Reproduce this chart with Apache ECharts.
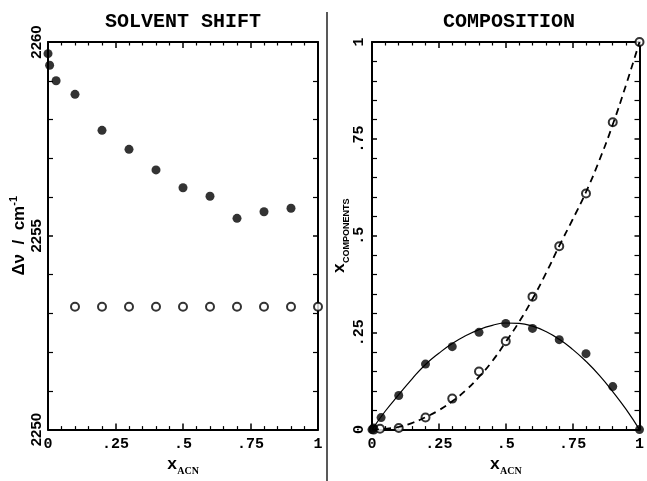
<!DOCTYPE html>
<html>
<head>
<meta charset="utf-8">
<title>Solvent shift / Composition</title>
<script src="https://cdn.jsdelivr.net/npm/echarts@6/dist/echarts.min.js"></script>
<style>
    html, body { margin: 0; padding: 0; background: #fff; }
    #chart { width: 647px; height: 481px; }
</style>
</head>
<body>
<div id="chart"></div>
<script>
// 左图: 溶剂位移 (filled = 实心点, open = 空心点)
var shiftFilledX = [0, 0.006, 0.03, 0.1, 0.2, 0.3, 0.4, 0.5, 0.6, 0.7, 0.8, 0.9];
var shiftFilled = [2259.7, 2259.4, 2259.0, 2258.65, 2257.72, 2257.23, 2256.70, 2256.24, 2256.02, 2255.45, 2255.62, 2255.71];
var shiftOpenX = [0.1, 0.2, 0.3, 0.4, 0.5, 0.6, 0.7, 0.8, 0.9, 1.0];
var shiftOpen = [2253.17, 2253.17, 2253.17, 2253.17, 2253.17, 2253.17, 2253.17, 2253.17, 2253.17, 2253.17];

// 右图: 组成
var compFilledX = [0, 0.006, 0.034, 0.1, 0.2, 0.3, 0.4, 0.5, 0.6, 0.7, 0.8, 0.9, 1.0];
var compFilled = [0, 0.004, 0.031, 0.088, 0.169, 0.214, 0.251, 0.274, 0.261, 0.232, 0.196, 0.111, 0];
var compOpenX = [0.006, 0.03, 0.1, 0.2, 0.3, 0.4, 0.5, 0.6, 0.7, 0.8, 0.9, 1.0];
var compOpen = [0, 0.002, 0.004, 0.031, 0.080, 0.150, 0.228, 0.343, 0.473, 0.609, 0.793, 1.0];

// 曲线
var curveX = [0, 0.05, 0.1, 0.15, 0.2, 0.25, 0.3, 0.35, 0.4, 0.45, 0.5, 0.55, 0.6, 0.65, 0.7, 0.75, 0.8, 0.85, 0.9, 0.95, 1.0];
var curveSolid = [0, 0.048, 0.090, 0.131, 0.168, 0.197, 0.222, 0.242, 0.258, 0.269, 0.275, 0.274, 0.267, 0.253, 0.233, 0.207, 0.176, 0.140, 0.098, 0.052, 0];
var curveDashed = [0, 0.002, 0.007, 0.017, 0.032, 0.050, 0.073, 0.101, 0.136, 0.177, 0.226, 0.278, 0.337, 0.403, 0.474, 0.542, 0.613, 0.695, 0.787, 0.890, 1.0];

// 刻度标签
var xTickLabels = ['0', '.25', '.5', '.75', '1'];
var compTickLabels = ['0', '.25', '.5', '.75', '1'];
var shiftTickLabels = ['2250', '2255', '2260'];

function pairs(xs, ys) {
    return xs.map(function (x, i) { return [x, ys[i]]; });
}

var mono = '"Liberation Mono", "DejaVu Sans Mono", monospace';
var sans = '"Liberation Sans", Arial, sans-serif';
var serif = '"Liberation Serif", serif';

var lineStyle = { color: '#000', width: 2 };

// 生成坐标轴 (主轴带标签, 对侧轴只画刻度)
function makeAxis(gridIndex, position, opts) {
    var main = opts.labels != null;
    return {
        type: 'value',
        gridIndex: gridIndex,
        position: position,
        min: opts.min,
        max: opts.max,
        interval: opts.interval,
        axisLine: { show: true, onZero: false, lineStyle: lineStyle },
        axisTick: { show: true, inside: true, length: opts.tickLen, lineStyle: { color: '#000', width: 1.5 } },
        minorTick: { show: true, splitNumber: 5, length: opts.minorLen, lineStyle: { color: '#000', width: 1.2 } },
        splitLine: { show: false },
        axisLabel: main ? {
            show: true,
            rotate: opts.rotate || 0,
            margin: opts.margin,
            color: '#000',
            fontFamily: opts.font || mono,
            fontWeight: 'bold',
            fontSize: 15,
            formatter: function (v) {
                return opts.labels[Math.round((v - opts.min) / opts.interval)];
            }
        } : { show: false },
        name: main ? opts.name : '',
        nameLocation: 'middle',
        nameGap: opts.nameGap,
        nameTextStyle: opts.nameStyle
    };
}

var xName = {
    name: '{x|x}{sub|ACN}',
    nameGap: 20,
    nameStyle: {
        rich: {
            x: { fontFamily: mono, fontWeight: 'bold', fontSize: 17, lineHeight: 22, verticalAlign: 'middle', color: '#000' },
            sub: { fontFamily: serif, fontWeight: 'bold', fontSize: 10, lineHeight: 22, verticalAlign: 'bottom', color: '#000' }
        }
    }
};

var chart = echarts.init(document.getElementById('chart'));

var option = {
    animation: false,
    backgroundColor: '#fff',
    grid: [
        { left: 48, top: 42, width: 270, height: 399 },
        { left: 372, top: 42, width: 270, height: 399 }
    ],
    graphic: [
        {
            type: 'text', x: 183, y: 22,
            style: { text: 'SOLVENT SHIFT', fontFamily: mono, fontWeight: 'bold', fontSize: 20, fill: '#000', align: 'center', verticalAlign: 'middle' }
        },
        {
            type: 'text', x: 509, y: 22,
            style: { text: 'COMPOSITION', fontFamily: mono, fontWeight: 'bold', fontSize: 20, fill: '#000', align: 'center', verticalAlign: 'middle' }
        },
        {
            type: 'line',
            shape: { x1: 327, y1: 12, x2: 327, y2: 481 },
            style: { stroke: '#222', lineWidth: 1.5 }
        }
    ],
    xAxis: [
        makeAxis(0, 'bottom', { min: 0, max: 1, interval: 0.25, tickLen: 6, minorLen: 3.5, margin: 7, labels: xTickLabels,
            name: xName.name, nameGap: xName.nameGap, nameStyle: xName.nameStyle }),
        makeAxis(0, 'top', { min: 0, max: 1, interval: 0.25, tickLen: 6, minorLen: 3.5 }),
        makeAxis(1, 'bottom', { min: 0, max: 1, interval: 0.25, tickLen: 6, minorLen: 3.5, margin: 7, labels: xTickLabels,
            name: xName.name, nameGap: xName.nameGap, nameStyle: xName.nameStyle }),
        makeAxis(1, 'top', { min: 0, max: 1, interval: 0.25, tickLen: 6, minorLen: 3.5 })
    ],
    yAxis: [
        makeAxis(0, 'left', { min: 2250, max: 2260, interval: 5, tickLen: 5, minorLen: 5, margin: 4, rotate: 90, font: sans,
            labels: shiftTickLabels,
            name: '{a|\u0394\u03bd  /  cm}{sup|-1}', nameGap: 15,
            nameStyle: {
                rich: {
                    a: { fontFamily: sans, fontWeight: 'bold', fontSize: 17, lineHeight: 22, verticalAlign: 'middle', color: '#000' },
                    sup: { fontFamily: sans, fontWeight: 'bold', fontSize: 11, lineHeight: 22, verticalAlign: 'top', color: '#000' }
                }
            } }),
        makeAxis(0, 'right', { min: 2250, max: 2260, interval: 5, tickLen: 5, minorLen: 5 }),
        makeAxis(1, 'left', { min: 0, max: 1, interval: 0.25, tickLen: 5, minorLen: 5, margin: 5, rotate: 90,
            labels: compTickLabels,
            name: '{x|x}{sub|COMPONENTS}', nameGap: 13,
            nameStyle: {
                rich: {
                    x: { fontFamily: mono, fontWeight: 'bold', fontSize: 17, lineHeight: 22, verticalAlign: 'middle', color: '#000' },
                    sub: { fontFamily: sans, fontWeight: 'bold', fontSize: 9, lineHeight: 22, verticalAlign: 'bottom', color: '#000' }
                }
            } }),
        makeAxis(1, 'right', { min: 0, max: 1, interval: 0.25, tickLen: 5, minorLen: 5 })
    ],
    series: [
        {
            type: 'scatter', xAxisIndex: 0, yAxisIndex: 0, clip: false,
            symbol: 'circle', symbolSize: 9,
            itemStyle: { color: '#000' },
            data: pairs(shiftFilledX, shiftFilled)
        },
        {
            type: 'scatter', xAxisIndex: 0, yAxisIndex: 0, clip: false,
            symbol: 'circle', symbolSize: 8,
            itemStyle: { color: '#fff', borderColor: '#000', borderWidth: 2 },
            data: pairs(shiftOpenX, shiftOpen)
        },
        {
            type: 'line', xAxisIndex: 2, yAxisIndex: 2, smooth: true, showSymbol: false,
            lineStyle: { color: '#000', width: 1.2 },
            data: pairs(curveX, curveSolid)
        },
        {
            type: 'line', xAxisIndex: 2, yAxisIndex: 2, smooth: true, showSymbol: false,
            lineStyle: { color: '#000', width: 1.8, type: [7, 5] },
            data: pairs(curveX, curveDashed)
        },
        {
            type: 'scatter', xAxisIndex: 2, yAxisIndex: 2, clip: false,
            symbol: 'circle', symbolSize: 8,
            itemStyle: { color: '#fff', borderColor: '#000', borderWidth: 2 },
            data: pairs(compOpenX, compOpen)
        },
        {
            type: 'scatter', xAxisIndex: 2, yAxisIndex: 2, clip: false,
            symbol: 'circle', symbolSize: 9,
            itemStyle: { color: '#000' },
            data: pairs(compFilledX, compFilled)
        }
    ]
};

chart.setOption(option);
</script>
</body>
</html>
